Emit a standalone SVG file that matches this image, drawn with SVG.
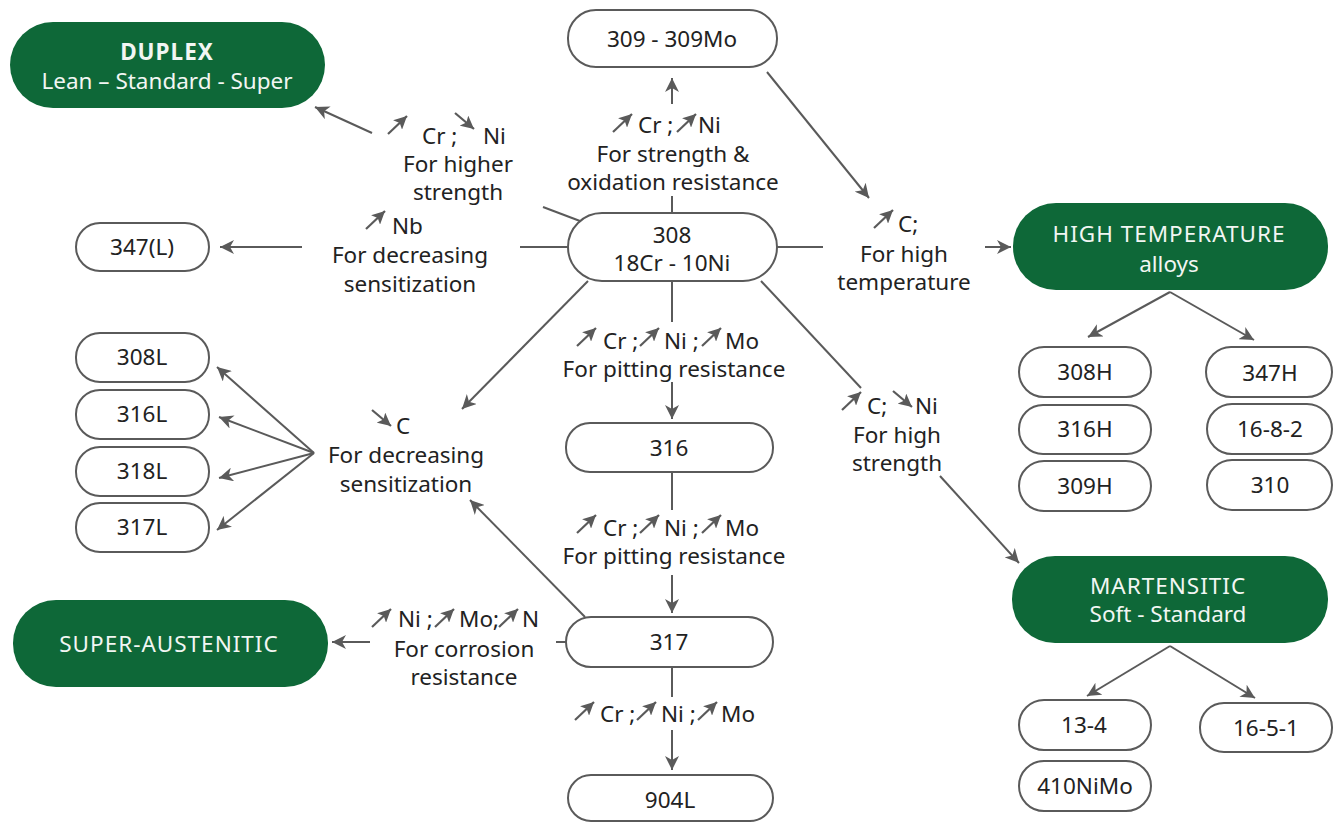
<svg xmlns="http://www.w3.org/2000/svg" width="1333" height="822" viewBox="0 0 1333 822">
<defs>
<marker id="ah" markerUnits="userSpaceOnUse" markerWidth="16" markerHeight="14" refX="14" refY="7" orient="auto">
<path d="M0,0 L14,7 L0,14 L4,7 z" fill="#5a5a5a"/>
</marker>
<marker id="sh" markerUnits="userSpaceOnUse" markerWidth="15" markerHeight="13" refX="13" refY="6.5" orient="auto">
<path d="M0,0 L13,6.5 L0,13 L3,6.5 z" fill="#5a5a5a"/>
</marker>
<g id="up"><line x1="0" y1="18" x2="19" y2="0" class="sm"/></g>
<g id="dn"><line x1="0" y1="0" x2="19" y2="16" class="sm"/></g>
</defs>
<style>
.box{fill:#fff;stroke:#5a5a5a;stroke-width:2}
.grn{fill:#0e6838}
.t{font-family:"Noto Sans","Open Sans","Liberation Sans",sans-serif;font-size:22.5px;fill:#222;text-anchor:middle}
.s{text-anchor:start}
.w{fill:#f2f6f3}
.u{letter-spacing:1px}
.b{font-weight:bold}
.c{stroke:#5a5a5a;stroke-width:2;fill:none}
.a{marker-end:url(#ah)}
.sm{stroke:#5a5a5a;stroke-width:2.2;fill:none;marker-end:url(#sh)}
</style>
<rect width="1333" height="822" fill="#fff"/>

<g id="connectors">
<line class="c" x1="672" y1="213" x2="672" y2="196"/>
<line class="c a" x1="672" y1="104" x2="672" y2="78"/>
<line class="c a" x1="767" y1="72" x2="869" y2="198"/>
<line class="c" x1="777" y1="247" x2="823" y2="247"/>
<line class="c a" x1="985" y1="247" x2="1011" y2="247"/>
<line class="c" x1="568" y1="247" x2="520" y2="247"/>
<line class="c a" x1="302" y1="247" x2="220" y2="247"/>
<line class="c" x1="580" y1="221" x2="543" y2="207"/>
<line class="c a" x1="372" y1="133" x2="315" y2="107"/>
<line class="c a" x1="588" y1="281" x2="462" y2="409"/>
<line class="c" x1="672" y1="281" x2="672" y2="322"/>
<line class="c a" x1="672" y1="382" x2="672" y2="419"/>
<line class="c" x1="761" y1="281" x2="861" y2="388"/>
<line class="c a" x1="940" y1="476" x2="1019" y2="563"/>
<line class="c" x1="672" y1="472" x2="672" y2="510"/>
<line class="c a" x1="672" y1="575" x2="672" y2="613"/>
<line class="c a" x1="585" y1="617" x2="470" y2="500"/>
<line class="c" x1="566" y1="642" x2="556" y2="642"/>
<line class="c a" x1="370" y1="642" x2="332" y2="642"/>
<line class="c" x1="672" y1="667" x2="672" y2="697"/>
<line class="c a" x1="672" y1="730" x2="672" y2="770"/>
<line class="c a" x1="314" y1="453" x2="217" y2="367"/>
<line class="c a" x1="314" y1="453" x2="219" y2="417"/>
<line class="c a" x1="314" y1="453" x2="219" y2="478"/>
<line class="c a" x1="314" y1="453" x2="217" y2="530"/>
<line class="c a" x1="1170" y1="292" x2="1088" y2="337"/>
<line class="c a" x1="1170" y1="292" x2="1254" y2="340"/>
<line class="c a" x1="1170" y1="646" x2="1087" y2="696"/>
<line class="c a" x1="1170" y1="646" x2="1255" y2="698"/>
</g>

<g id="duplex"><rect class="grn" x="10" y="22" width="315" height="86" rx="43"/>
<text class="t w b u" x="167" y="60">DUPLEX</text><text class="t w" x="167" y="89">Lean – Standard - Super</text></g>
<g id="hightemp"><rect class="grn" x="1013" y="203" width="315" height="87" rx="43"/>
<text class="t w u" x="1169" y="242">HIGH TEMPERATURE</text><text class="t w" x="1169" y="272">alloys</text></g>
<g id="martensitic"><rect class="grn" x="1012" y="556" width="316" height="87" rx="43"/>
<text class="t w u" x="1168" y="594">MARTENSITIC</text><text class="t w" x="1168" y="622">Soft - Standard</text></g>
<g id="superaustenitic"><rect class="grn" x="13" y="600" width="315" height="87" rx="43"/>
<text class="t w u" x="169" y="652">SUPER-AUSTENITIC</text></g>

<g id="n309"><rect class="box" x="568" y="10" width="209" height="57" rx="28"/><text class="t" x="672" y="47">309 - 309Mo</text></g>
<g id="n308"><rect class="box" x="568" y="213" width="209" height="68" rx="34"/><text class="t" x="672" y="243">308</text><text class="t" x="672" y="271">18Cr  - 10Ni</text></g>
<g id="n347L"><rect class="box" x="76" y="223" width="133" height="48" rx="24"/><text class="t" x="142" y="255">347(L)</text></g>
<g id="n308L"><rect class="box" x="76" y="333" width="133" height="49" rx="24"/><text class="t" x="142" y="365">308L</text></g>
<g id="n316L"><rect class="box" x="76" y="390" width="133" height="49" rx="24"/><text class="t" x="142" y="422">316L</text></g>
<g id="n318L"><rect class="box" x="76" y="447" width="133" height="49" rx="24"/><text class="t" x="142" y="479">318L</text></g>
<g id="n317L"><rect class="box" x="76" y="503" width="133" height="49" rx="24"/><text class="t" x="142" y="535">317L</text></g>
<g id="n316"><rect class="box" x="566" y="423" width="207" height="49" rx="24"/><text class="t" x="669" y="456">316</text></g>
<g id="n317"><rect class="box" x="566" y="617" width="207" height="50" rx="25"/><text class="t" x="669" y="650">317</text></g>
<g id="n904L"><rect class="box" x="568" y="775" width="205" height="46" rx="23"/><text class="t" x="670" y="808">904L</text></g>
<g id="n308H"><rect class="box" x="1019" y="347" width="132" height="50" rx="25"/><text class="t" x="1085" y="380">308H</text></g>
<g id="n316H"><rect class="box" x="1019" y="405" width="132" height="49" rx="24"/><text class="t" x="1085" y="437">316H</text></g>
<g id="n309H"><rect class="box" x="1019" y="461" width="132" height="50" rx="25"/><text class="t" x="1085" y="494">309H</text></g>
<g id="n347H"><rect class="box" x="1206" y="347" width="126" height="50" rx="25"/><text class="t" x="1270" y="381">347H</text></g>
<g id="n1682"><rect class="box" x="1207" y="404" width="125" height="50" rx="25"/><text class="t" x="1270" y="437">16-8-2</text></g>
<g id="n310"><rect class="box" x="1207" y="460" width="125" height="50" rx="25"/><text class="t" x="1270" y="493">310</text></g>
<g id="n134"><rect class="box" x="1019" y="700" width="132" height="50" rx="25"/><text class="t" x="1084" y="733">13-4</text></g>
<g id="n1651"><rect class="box" x="1200" y="703" width="132" height="49" rx="24"/><text class="t" x="1266" y="736">16-5-1</text></g>
<g id="n410NiMo"><rect class="box" x="1019" y="761" width="132" height="50" rx="25"/><text class="t" x="1085" y="794">410NiMo</text></g>

<g id="lbl-duplex">
<use href="#up" x="388" y="116"/><use href="#dn" x="455" y="113"/>
<text class="t s" x="422" y="144">Cr ;</text><text class="t s" x="483" y="144">Ni</text>
<text class="t" x="458" y="172">For higher</text><text class="t" x="458" y="200">strength</text></g>
<g id="lbl-309">
<use href="#up" x="613" y="114"/><use href="#up" x="677" y="114"/>
<text class="t s" x="638" y="133">Cr ;</text><text class="t s" x="698" y="133">Ni</text>
<text class="t" x="673" y="162">For strength &amp;</text><text class="t" x="673" y="190">oxidation resistance</text></g>
<g id="lbl-ht">
<use href="#up" x="874" y="210"/>
<text class="t s" x="898" y="232">C;</text>
<text class="t" x="904" y="262">For high</text><text class="t" x="904" y="290">temperature</text></g>
<g id="lbl-347">
<use href="#up" x="366" y="211"/>
<text class="t s" x="392" y="234">Nb</text>
<text class="t" x="410" y="263">For decreasing</text><text class="t" x="410" y="292">sensitization</text></g>
<g id="lbl-316">
<use href="#up" x="577" y="328"/><use href="#up" x="640" y="328"/><use href="#up" x="702" y="328"/>
<text class="t s" x="603" y="349">Cr ;</text><text class="t s" x="664" y="349">Ni ;</text><text class="t s" x="725" y="349">Mo</text>
<text class="t" x="674" y="377">For pitting resistance</text></g>
<g id="lbl-317">
<use href="#up" x="577" y="515"/><use href="#up" x="640" y="515"/><use href="#up" x="702" y="515"/>
<text class="t s" x="603" y="536">Cr ;</text><text class="t s" x="664" y="536">Ni ;</text><text class="t s" x="725" y="536">Mo</text>
<text class="t" x="674" y="564">For pitting resistance</text></g>
<g id="lbl-904">
<use href="#up" x="575" y="702"/><use href="#up" x="637" y="702"/><use href="#up" x="698" y="702"/>
<text class="t s" x="600" y="722">Cr ;</text><text class="t s" x="661" y="722">Ni ;</text><text class="t s" x="721" y="722">Mo</text></g>
<g id="lbl-sa">
<use href="#up" x="372" y="609"/><use href="#up" x="435" y="609"/><use href="#up" x="499" y="609"/>
<text class="t s" x="398" y="627">Ni ;</text><text class="t s" x="459" y="627">Mo;</text><text class="t s" x="522" y="627">N</text>
<text class="t" x="464" y="657">For corrosion</text><text class="t" x="464" y="685">resistance</text></g>
<g id="lbl-c">
<use href="#dn" x="372" y="410"/>
<text class="t s" x="396" y="434">C</text>
<text class="t" x="406" y="463">For decreasing</text><text class="t" x="406" y="492">sensitization</text></g>
<g id="lbl-hs">
<use href="#up" x="842" y="392"/><use href="#dn" x="893" y="391"/>
<text class="t s" x="867" y="414">C;</text><text class="t s" x="915" y="414">Ni</text>
<text class="t" x="897" y="443">For high</text><text class="t" x="897" y="471">strength</text></g>
</svg>
